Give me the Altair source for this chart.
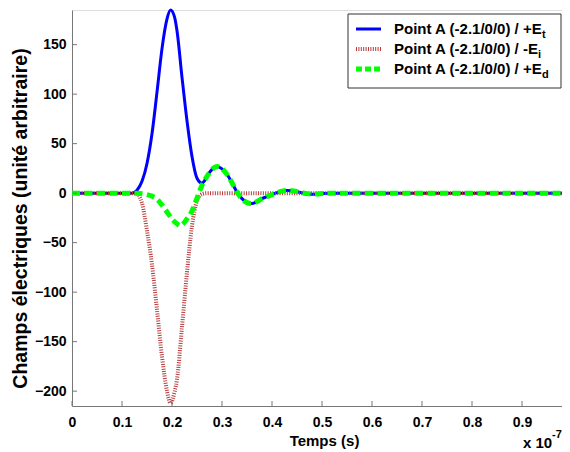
import altair as alt
import pandas as pd

# ---- data (time in units of 1e-7 s) ----
t_et = [0, 0.12, 0.13, 0.14, 0.15, 0.16, 0.17, 0.18, 0.19, 0.197, 0.205, 0.21, 0.22, 0.23, 0.24, 0.25,
        0.26, 0.265, 0.27, 0.28, 0.29, 0.30, 0.31, 0.32, 0.33, 0.34, 0.35, 0.36, 0.37, 0.38, 0.39, 0.40,
        0.41, 0.42, 0.43, 0.44, 0.45, 0.46, 0.47, 0.48, 0.49, 0.50, 0.52, 0.98]
e_t = [0, 0, 3, 12, 30, 60, 102, 146, 176, 185, 178, 164, 117, 73, 37, 15,
       10, 12.5, 17, 24, 27, 24.5, 19, 10.5, 1, -5.5, -9.5, -10.5, -8.5, -5.5, -3.5, -1.5,
       0.5, 2, 2.8, 2.5, 1.5, 0.5, -0.5, -1, -0.8, -0.4, 0, 0]

t_ei = [0, 0.12, 0.13, 0.14, 0.15, 0.16, 0.17, 0.18, 0.19, 0.197, 0.205, 0.21, 0.22, 0.23, 0.24, 0.25,
        0.26, 0.27, 0.98]
e_i = [0, 0, -1, -10, -38, -72, -118, -165, -200, -212, -201, -188, -135, -80, -33, -8,
       -1, 0, 0]

t_ed = [0, 0.13, 0.14, 0.15, 0.16, 0.17, 0.18, 0.19, 0.20, 0.21, 0.216, 0.22, 0.23, 0.24, 0.25,
        0.26, 0.27, 0.28, 0.29, 0.30, 0.31, 0.32, 0.33, 0.34, 0.35, 0.36, 0.37, 0.38, 0.39, 0.40,
        0.41, 0.42, 0.43, 0.44, 0.45, 0.46, 0.47, 0.48, 0.49, 0.50, 0.52, 0.98]
e_d = [0, 0, -0.5, -1.5, -3, -6, -12, -19, -26, -31, -33, -32, -26, -18, -5,
       8, 17, 24, 27, 24.5, 19, 10.5, 1, -5.5, -9.5, -10.5, -8.5, -5.5, -3.5, -1.5,
       0.5, 2, 2.8, 2.5, 1.5, 0.5, -0.5, -1, -0.8, -0.4, 0, 0]

x_ticks = [0, 0.1, 0.2, 0.3, 0.4, 0.5, 0.6, 0.7, 0.8, 0.9]
y_ticks = [-200, -150, -100, -50, 0, 50, 100, 150]

legend_labels = ["Point A (-2.1/0/0) / +E", "Point A (-2.1/0/0) / -E", "Point A (-2.1/0/0) / +E"]
legend_subs = ["t", "i", "d"]

FONT = "Liberation Sans"
W, H = 490, 396

xs = alt.Scale(domain=[0, 0.98], nice=False, zero=False)
ys = alt.Scale(domain=[-215, 185], nice=False, zero=False)

x_axis = alt.Axis(values=x_ticks, format=".1~f", ticks=False, grid=False, labelPadding=9,
                  labelFont=FONT, labelFontSize=14, labelFontWeight="bold", labelColor="black",
                  labelFlush=False, labelOverlap=False, domainColor="#777777",
                  title="Temps (s)", titleFont=FONT, titleFontSize=15, titleFontWeight="bold",
                  titleColor="black", titlePadding=4, titleX=252)
y_axis = alt.Axis(values=y_ticks, ticks=False, grid=False, labelPadding=6,
                  labelFont=FONT, labelFontSize=14, labelFontWeight="bold", labelColor="black",
                  labelFlush=False, labelOverlap=False, domainColor="#777777",
                  title="Champs électriques (unité arbitraire)", titleFont=FONT, titleFontSize=19.5,
                  titleFontWeight="bold", titleColor="black", titleAngle=270, titleX=-52, titleY=208,
                  titleAlign="center", titleBaseline="middle")

df_t = pd.DataFrame({"t": t_et, "v": e_t})
df_i = pd.DataFrame({"t": t_ei, "v": e_i})
df_d = pd.DataFrame({"t": t_ed, "v": e_d})

blue = alt.Chart(df_t).mark_line(color="#0000ff", strokeWidth=3, interpolate="monotone").encode(
    x=alt.X("t:Q", scale=xs, axis=x_axis), y=alt.Y("v:Q", scale=ys, axis=y_axis))
red = alt.Chart(df_i).mark_line(color="#b83a3a", strokeWidth=4, strokeDash=[1, 1.4],
                                interpolate="monotone").encode(
    x=alt.X("t:Q", scale=xs), y=alt.Y("v:Q", scale=ys))
green = alt.Chart(df_d).mark_line(color="#00ff00", strokeWidth=5, strokeDash=[8, 4.5],
                                  interpolate="monotone").encode(
    x=alt.X("t:Q", scale=xs), y=alt.Y("v:Q", scale=ys))

# inward ticks
xt = alt.Chart(pd.DataFrame({"t": x_ticks})).mark_rule(color="#777777", strokeWidth=1).encode(
    x=alt.X("t:Q", scale=xs), y=alt.value(H), y2=alt.value(H - 5))
yt = alt.Chart(pd.DataFrame({"v": y_ticks})).mark_rule(color="#777777", strokeWidth=1).encode(
    y=alt.Y("v:Q", scale=ys), x=alt.value(0), x2=alt.value(5))

one = pd.DataFrame({"a": [0]})
exp_main = alt.Chart(one).mark_text(font=FONT, fontSize=15, fontWeight="bold", align="left",
                                    baseline="middle", color="black").encode(
    x=alt.value(451), y=alt.value(433), text=alt.value("x 10"))
exp_sup = alt.Chart(one).mark_text(font=FONT, fontSize=11, fontWeight="bold", align="left",
                                   baseline="middle", color="black").encode(
    x=alt.value(480), y=alt.value(425), text=alt.value("-7"))

# legend
leg_box = alt.Chart(one).mark_rect(fill="white", stroke="#333333", strokeWidth=1).encode(
    x=alt.value(276), x2=alt.value(489), y=alt.value(4), y2=alt.value(78))
styles = [dict(color="#0000ff", strokeWidth=3),
          dict(color="#b83a3a", strokeWidth=4, strokeDash=[1, 1.4]),
          dict(color="#00ff00", strokeWidth=5, strokeDash=[6, 3])]
sub_x = [470, 466, 470]
leg_layers = [leg_box]
for i in range(3):
    row_y = 19 + 20 * i
    leg_layers.append(alt.Chart(one).mark_rule(**styles[i]).encode(
        x=alt.value(284), x2=alt.value(309), y=alt.value(row_y)))
    leg_layers.append(alt.Chart(one).mark_text(font=FONT, fontSize=15, fontWeight="bold", align="left",
                                               baseline="middle", color="black").encode(
        x=alt.value(322), y=alt.value(row_y), text=alt.value(legend_labels[i])))
    leg_layers.append(alt.Chart(one).mark_text(font=FONT, fontSize=11, fontWeight="bold", align="left",
                                               baseline="middle", color="black").encode(
        x=alt.value(sub_x[i]), y=alt.value(row_y + 6), text=alt.value(legend_subs[i])))

chart = alt.layer(blue, red, green, xt, yt, exp_main, exp_sup, *leg_layers).properties(
    width=W, height=H,
    autosize=alt.AutoSizeParams(type="none"),
    padding={"left": 64, "top": 2, "right": 0, "bottom": 46},
).configure_view(strokeWidth=0).configure(background="white")

chart.save("out.html", embed_options={"renderer": "svg", "actions": False})
